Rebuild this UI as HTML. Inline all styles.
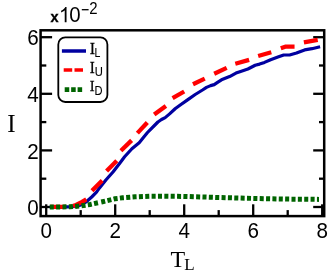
<!DOCTYPE html>
<html><head><meta charset="utf-8"><title>plot</title>
<style>
html,body{margin:0;padding:0;background:#fff;}
body{width:332px;height:274px;overflow:hidden;}
svg{display:block;will-change:transform;}
.sans{font-family:"Liberation Sans",sans-serif;}
.serif{font-family:"Liberation Serif",serif;}
</style></head><body>
<svg width="332" height="274" viewBox="0 0 332 274">
<rect width="332" height="274" fill="#fff"/>
<rect x="40.6" y="30.3" width="283.59999999999997" height="185.79999999999998" fill="none" stroke="#000" stroke-width="2.5"/>
<g stroke="#000" stroke-width="2.3">
<line x1="46.20" y1="216.1" x2="46.20" y2="204.30"/>
<line x1="80.70" y1="216.1" x2="80.70" y2="210.10"/>
<line x1="115.20" y1="216.1" x2="115.20" y2="204.30"/>
<line x1="149.70" y1="216.1" x2="149.70" y2="210.10"/>
<line x1="184.20" y1="216.1" x2="184.20" y2="204.30"/>
<line x1="218.70" y1="216.1" x2="218.70" y2="210.10"/>
<line x1="253.20" y1="216.1" x2="253.20" y2="204.30"/>
<line x1="287.70" y1="216.1" x2="287.70" y2="210.10"/>
<line x1="322.20" y1="216.1" x2="322.20" y2="204.30"/>
<line x1="40.6" y1="207.00" x2="52.10" y2="207.00"/>
<line x1="324.2" y1="207.00" x2="313.20" y2="207.00"/>
<line x1="40.6" y1="178.70" x2="46.30" y2="178.70"/>
<line x1="324.2" y1="178.70" x2="319.00" y2="178.70"/>
<line x1="40.6" y1="150.40" x2="52.10" y2="150.40"/>
<line x1="324.2" y1="150.40" x2="313.20" y2="150.40"/>
<line x1="40.6" y1="122.10" x2="46.30" y2="122.10"/>
<line x1="324.2" y1="122.10" x2="319.00" y2="122.10"/>
<line x1="40.6" y1="93.80" x2="52.10" y2="93.80"/>
<line x1="324.2" y1="93.80" x2="313.20" y2="93.80"/>
<line x1="40.6" y1="65.50" x2="46.30" y2="65.50"/>
<line x1="324.2" y1="65.50" x2="319.00" y2="65.50"/>
<line x1="40.6" y1="37.20" x2="52.10" y2="37.20"/>
<line x1="324.2" y1="37.20" x2="313.20" y2="37.20"/>
</g>
<g fill="none" stroke-linejoin="round">
<polyline points="49.80,206.84 70.00,206.80 75.00,206.50 80.00,205.20 83.50,203.50 86.90,201.30 91.70,197.00 96.50,192.20 99.30,188.20 105.90,180.00 113.20,171.70 120.50,162.20 124.60,156.80 131.90,148.70 139.20,142.70 143.60,137.30 147.50,132.50 150.60,129.30 157.90,122.00 161.50,119.50 165.20,117.60 169.60,113.90 175.40,108.50 180.60,104.70 187.90,99.60 195.20,94.50 202.50,90.00 206.50,87.40 210.60,85.60 214.20,84.60 217.90,82.10 221.50,79.80 225.20,78.30 229.60,76.60 236.00,73.10 240.60,71.40 247.90,69.00 255.20,65.30 259.60,64.10 264.50,62.40 270.60,59.70 277.90,57.10 283.70,55.00 289.60,55.00 296.50,53.00 304.60,49.90 311.90,48.70 320.10,46.81" stroke="#0000a0" stroke-width="3.2"/>
<g stroke="#ff0000" stroke-width="4.3">
<polyline points="50.40,206.84 65.90,206.80"/>
<polyline points="73.00,206.10 76.00,204.90 82.10,201.90 86.30,199.40"/>
<polyline points="92.00,190.70 102.20,180.40"/>
<polyline points="106.60,171.00 116.80,160.70"/>
<polyline points="120.90,150.70 131.60,140.40"/>
<polyline points="137.40,133.10 147.30,122.50"/>
<polyline points="154.20,114.60 165.90,105.90"/>
<polyline points="172.60,98.10 184.20,91.50"/>
<polyline points="193.00,84.20 204.75,78.60"/>
<polyline points="214.20,73.70 226.70,67.90"/>
<polyline points="235.30,63.80 249.10,59.90"/>
<polyline points="258.15,56.00 271.30,52.30"/>
<polyline points="280.80,48.20 285.20,46.70 294.55,46.70"/>
<polyline points="303.90,42.40 317.70,39.80"/>
</g>
<g stroke="#006400" stroke-width="5.0" stroke-dasharray="4.05 2.31">
<polyline points="49.75,207.00 60.00,207.00 70.00,206.80 80.00,206.00 90.00,204.50 100.00,202.30"/>
<polyline points="100.00,202.30 102.50,201.75 115.00,198.75 122.50,197.80 135.00,196.80 150.00,196.20 165.00,196.20 183.00,196.40 200.00,196.90 218.00,197.50 252.00,198.40 287.00,199.10 319.00,199.38" stroke-dashoffset="5.11"/>
</g>
</g>
<g class="sans" font-size="22.2" fill="#000">
<text transform="translate(46.20,237.6) scale(0.93,1)" text-anchor="middle">0</text>
<text transform="translate(115.20,237.6) scale(0.93,1)" text-anchor="middle">2</text>
<text transform="translate(184.20,237.6) scale(0.93,1)" text-anchor="middle">4</text>
<text transform="translate(253.20,237.6) scale(0.93,1)" text-anchor="middle">6</text>
<text transform="translate(322.20,237.6) scale(0.93,1)" text-anchor="middle">8</text>
<text transform="translate(38.7,215.10) scale(0.93,1)" text-anchor="end">0</text>
<text transform="translate(38.7,158.50) scale(0.93,1)" text-anchor="end">2</text>
<text transform="translate(38.7,101.90) scale(0.93,1)" text-anchor="end">4</text>
<text transform="translate(38.7,45.30) scale(0.93,1)" text-anchor="end">6</text>
</g>
<g class="sans" fill="#000">
<text x="50.4" y="22.3" font-size="14.5" font-weight="bold" stroke="#000" stroke-width="0.35">x</text>
<path transform="translate(58.9,22.2) scale(0.0100,-0.0104)" d="M763 0H583V1147Q518 1085 412.5 1023T223 930V1104Q373 1174.5 485 1275T644 1466H763Z"/>
<text transform="translate(69.3,22.3) scale(0.96,1)" font-size="21.3">0</text>
<rect x="81.8" y="9.05" width="6.8" height="1.3"/>
<text transform="translate(89.3,13.6) scale(0.86,1)" font-size="17.4">2</text>
</g>
<g class="serif" fill="#000">
<text x="7.3" y="132" font-size="25">I</text>
<text x="170.6" y="267.2" font-size="24">T</text>
<text x="184.3" y="270.4" font-size="17">L</text>
</g>
<!-- legend -->
<rect x="58.3" y="37.4" width="49.1" height="64.6" rx="7" ry="7" fill="#fff" stroke="#000" stroke-width="1.8"/>
<line x1="61.9" y1="51.0" x2="86" y2="51.0" stroke="#0000a0" stroke-width="3.5"/>
<line x1="63.7" y1="70" x2="83.2" y2="70" stroke="#ff0000" stroke-width="3.5" stroke-dasharray="8.5 2.3"/>
<line x1="64.7" y1="89.6" x2="82.3" y2="89.6" stroke="#006400" stroke-width="4.9" stroke-dasharray="4.55 1.9"/>
<g fill="#000" stroke="#000" stroke-width="0.25">
<text class="serif" transform="translate(89.7,54.3) scale(0.92,1)" font-size="17.2">I</text><text class="sans" stroke-width="0.1" transform="translate(94.6,56.7) scale(0.84,1)" font-size="12.5">L</text>
<text class="serif" transform="translate(89.8,72.7) scale(0.95,1)" font-size="15.8">I</text><text class="sans" stroke-width="0.1" transform="translate(94.7,76.2) scale(0.9,1)" font-size="12.5">U</text>
<text class="serif" transform="translate(89.8,91.3) scale(0.95,1)" font-size="15.3">I</text><text class="sans" stroke-width="0.1" transform="translate(94.5,94.9) scale(0.89,1)" font-size="12.5">D</text>
</g>
</svg>
</body></html>
